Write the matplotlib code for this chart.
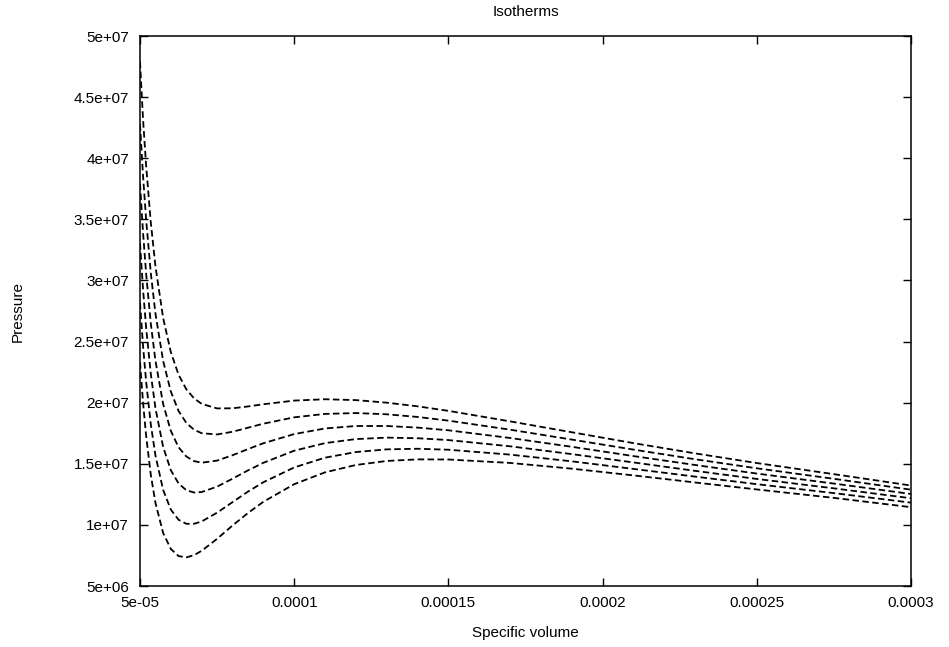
import matplotlib
matplotlib.use("Agg")
import matplotlib.pyplot as plt
from matplotlib.ticker import FixedLocator, FixedFormatter


##########################  DATA  ##########################

# specific volume (x) shared by every isotherm
specific_volume = [5.0e-5, 5.1e-5, 5.2e-5, 5.35e-5, 5.5e-5, 5.75e-5, 6.0e-5,
                   6.25e-5, 6.5e-5, 6.75e-5, 7.0e-5, 7.5e-5, 8.0e-5, 8.5e-5,
                   9.0e-5, 1.0e-4, 1.1e-4, 1.2e-4, 1.3e-4, 1.4e-4, 1.5e-4,
                   1.7e-4, 1.9e-4, 2.1e-4, 2.3e-4, 2.5e-4, 2.75e-4, 3.0e-4]

# pressure of each isotherm, lowest one first (MPa, scaled below)
isotherm_1 = [23.31, 19.97, 17.26, 14.10, 11.81, 9.34, 8.03, 7.45, 7.34, 7.52,
              7.88, 8.86, 9.95, 10.97, 11.89, 13.33, 14.30, 14.90, 15.23,
              15.36, 15.35, 15.07, 14.60, 14.05, 13.47, 12.90, 12.21, 11.45]
isotherm_2 = [28.18, 24.60, 21.68, 18.23, 15.69, 12.86, 11.25, 10.42, 10.09,
              10.09, 10.28, 11.00, 11.86, 12.72, 13.49, 14.70, 15.50, 15.96,
              16.18, 16.23, 16.15, 15.75, 15.20, 14.58, 13.95, 13.33, 12.60,
              11.82]
isotherm_3 = [33.05, 29.23, 26.09, 22.36, 19.56, 16.38, 14.47, 13.39, 12.84,
              12.65, 12.69, 13.13, 13.78, 14.46, 15.08, 16.07, 16.69, 17.02,
              17.14, 17.09, 16.94, 16.43, 15.79, 15.11, 14.42, 13.76, 12.99,
              12.18]
isotherm_4 = [37.92, 33.87, 30.51, 26.48, 23.44, 19.89, 17.69, 16.35, 15.60,
              15.22, 15.09, 15.26, 15.70, 16.20, 16.68, 17.43, 17.89, 18.09,
              18.09, 17.96, 17.74, 17.11, 16.39, 15.63, 14.90, 14.20, 13.38,
              12.53]
isotherm_5 = [42.78, 38.50, 34.93, 30.61, 27.31, 23.41, 20.91, 19.32, 18.35,
              17.79, 17.50, 17.40, 17.62, 17.95, 18.28, 18.80, 19.08, 19.15,
              19.05, 18.83, 18.53, 17.79, 16.98, 16.16, 15.37, 14.63, 13.77,
              12.88]
isotherm_6 = [47.90, 43.13, 39.35, 34.74, 31.19, 26.93, 24.13, 22.29, 21.10,
              20.36, 19.90, 19.53, 19.54, 19.69, 19.87, 20.17, 20.28, 20.21,
              20.00, 19.70, 19.33, 18.47, 17.58, 16.69, 15.85, 15.06, 14.15,
              13.22]

isotherms = [isotherm_1, isotherm_2, isotherm_3, isotherm_4, isotherm_5,
             isotherm_6]

x_ticks = [5e-5, 1e-4, 1.5e-4, 2e-4, 2.5e-4, 3e-4]
x_tick_labels = ['5e-05', '0.0001', '0.00015', '0.0002', '0.00025', '0.0003']
y_ticks = [5e6, 1e7, 1.5e7, 2e7, 2.5e7, 3e7, 3.5e7, 4e7, 4.5e7, 5e7]
y_tick_labels = ['5e+06', '1e+07', '1.5e+07', '2e+07', '2.5e+07', '3e+07',
                 '3.5e+07', '4e+07', '4.5e+07', '5e+07']


#################################  PLOTTING  #################################

plt.rcParams['font.family'] = ['Liberation Sans', 'DejaVu Sans']
plt.rcParams['font.size'] = 11

fig = plt.figure(figsize=(9.49, 6.47), dpi=100)
ax = fig.add_axes([140 / 949, 61 / 647, 771 / 949, 550 / 647])

for pressures in isotherms:
    ax.plot(specific_volume, [p * 1e6 for p in pressures], color='black',
            linewidth=1.3, linestyle=(0, (3.6, 1.9)))

ax.set_xlim(5e-5, 3e-4)
ax.set_ylim(5e6, 5e7)

ax.xaxis.set_major_locator(FixedLocator(x_ticks))
ax.xaxis.set_major_formatter(FixedFormatter(x_tick_labels))
ax.yaxis.set_major_locator(FixedLocator(y_ticks))
ax.yaxis.set_major_formatter(FixedFormatter(y_tick_labels))

ax.tick_params(direction='in', length=6, width=1, top=True, right=True,
               pad=7)
ax.tick_params(axis='y', pad=8)
for spine in ax.spines.values():
    spine.set_linewidth(1.1)

# title placed by hand, centred over the plot area
fig.text(525.5 / 949, 1 - 12 / 647, 'Isotherms', ha='center', va='center')
ax.set_xlabel('Specific volume', labelpad=12)
ax.set_ylabel('Pressure', labelpad=35)

fig.savefig('out.png', dpi=100)
